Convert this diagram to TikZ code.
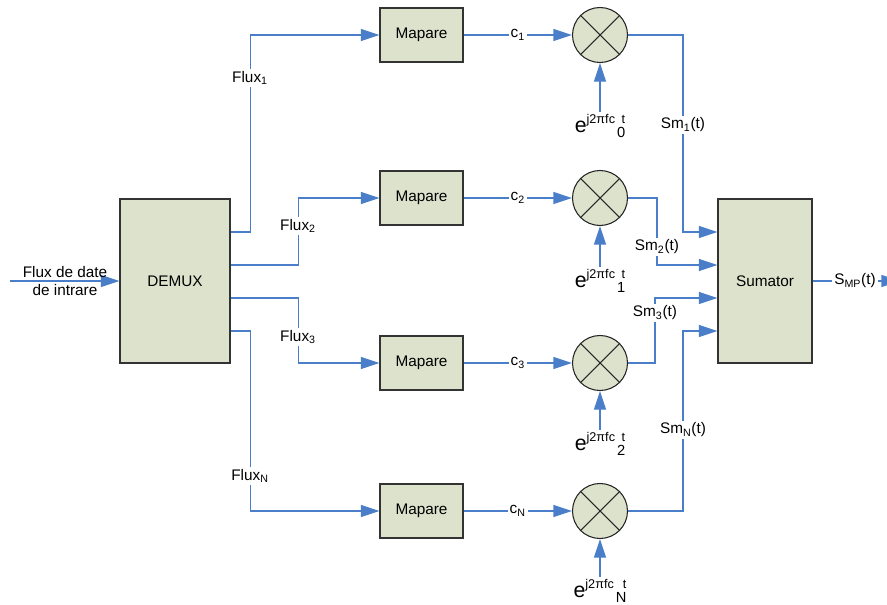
\documentclass[tikz,border=0pt]{standalone}
\usepackage{fontspec}
\setmainfont{Liberation Sans}
\usetikzlibrary{arrows.meta,calc}
\definecolor{wirecol}{RGB}{74,126,200}
\definecolor{boxfill}{RGB}{221,226,204}
\newcommand{\carrier}[1]{{\fontsize{16}{16}\selectfont e}\raisebox{6.5pt}{\fontsize{9.5}{10}\selectfont j2πfc}\hspace{1.5pt}\raisebox{-3.5pt}{\fontsize{11}{11}\selectfont #1}\llap{\raisebox{7pt}{\fontsize{9.5}{10}\selectfont t}}}
\newcommand{\sbs}[1]{\textsubscript{\fontsize{8}{8}\selectfont #1}}
\begin{document}
\begin{tikzpicture}[x=0.75pt,y=-0.75pt,
  txt/.style={font=\fontsize{11.5}{13.5}\selectfont},
  blockbox/.style={draw=black!80, fill=boxfill, line width=0.8pt, inner sep=0pt, txt},
  mixer/.style={circle, draw=black!85, fill=boxfill, line width=0.8pt, minimum size=41.25pt, inner sep=0pt},
  wire/.style={draw=wirecol, line width=1.1pt},
  arr/.style={wire, -{Triangle[length=14pt,width=9pt]}},
  lab/.style={fill=white, inner sep=1.5pt, txt}]
\useasboundingbox (0,0) rectangle (887,605);

% blocks
\node[blockbox, minimum width=82.5pt, minimum height=123pt] (demux) at (175,281) {DEMUX};
\node[blockbox, minimum width=70.5pt, minimum height=123pt] (sum) at (765,281) {Sumator};
\foreach \i/\y in {1/35,2/198,3/363,4/511}{
  \node[blockbox, minimum width=62.25pt, minimum height=40.5pt] (map\i) at (421.5,\y) {Mapare};
  \node[mixer] (mix\i) at (600,\y) {};
  \draw[line width=0.8pt, black!85] (mix\i.north east) -- (mix\i.south west);
  \draw[line width=0.8pt, black!85] (mix\i.north west) -- (mix\i.south east);
}

% input
\coordinate (in) at (10,281);
\draw[arr] (in) -- (demux.west);
\node[txt, align=center, inner sep=0pt] (inlab) at (65,281) {Flux de date\\de intrare};

% demux to mapare
\draw[arr] ($(demux.east)+(0,-49)$) -- ++(20,0) |- (map1.west);
\draw[arr] ($(demux.east)+(0,-16)$) -- ++(68,0) |- (map2.west);
\draw[arr] ($(demux.east)+(0,17)$) -- ++(68,0) |- (map3.west);
\draw[arr] ($(demux.east)+(0,50)$) -- ++(20,0) |- (map4.west);
\node[lab] (f1) at (250,78) {Flux\sbs{1}};
\node[lab] (f2) at (298,226) {Flux\sbs{2}};
\node[lab] (f3) at (298,337) {Flux\sbs{3}};
\node[lab] (f4) at (250,476) {Flux\sbs{N}};

% mapare to mixers
\draw[arr] (map1.east) -- node[lab, pos=0.5] (c1) {c\sbs{1}} (mix1.west);
\draw[arr] (map2.east) -- node[lab, pos=0.5] (c2) {c\sbs{2}} (mix2.west);
\draw[arr] (map3.east) -- node[lab, pos=0.5] (c3) {c\sbs{3}} (mix3.west);
\draw[arr] (map4.east) -- node[lab, pos=0.5] (c4) {c\sbs{N}} (mix4.west);

% carriers
\node[txt, inner sep=2pt] (e1) at (600,126) {\carrier{0}};
\node[txt, inner sep=2pt] (e2) at (600,281) {\carrier{1}};
\node[txt, inner sep=2pt] (e3) at (600,444) {\carrier{2}};
\node[txt, inner sep=2pt] (e4) at (600,591) {\carrier{N}};
\foreach \i in {1,2,3,4}{ \draw[arr] (e\i.north) -- (mix\i.south); }

% mixers to sumator
\draw[arr] (mix1.east) -- ++(55,0) |- ($(sum.west)+(0,-49)$);
\draw[arr] (mix2.east) -- ++(29,0) |- ($(sum.west)+(0,-16)$);
\draw[arr] (mix3.east) -- ++(27,0) |- ($(sum.west)+(0,17)$);
\draw[arr] (mix4.east) -- ++(55,0) |- ($(sum.west)+(0,50)$);
\node[lab] (s1) at (683,125) {Sm\sbs{1}(t)};
\node[lab] (s2) at (657,247) {Sm\sbs{2}(t)};
\node[lab] (s3) at (655,313) {Sm\sbs{3}(t)};
\node[lab] (s4) at (683,430) {Sm\sbs{N}(t)};

% output
\coordinate (out) at (900,281);
\draw[arr] (sum.east) -- (out);
\node[lab] (smp) at (855,281) {S\sbs{MP}(t)};
\end{tikzpicture}
\end{document}
